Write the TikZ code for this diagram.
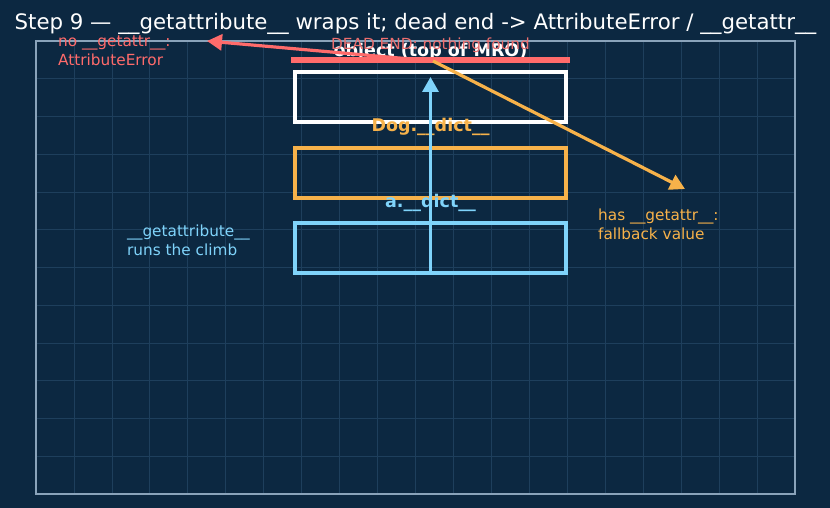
\documentclass[tikz,border=0pt]{standalone}
\usepackage{fontspec}
\setmainfont{DejaVu Sans}
\usetikzlibrary{arrows.meta}
\definecolor{bg}{HTML}{0C2841}
\definecolor{gridc}{HTML}{1E3F5C}
\definecolor{framec}{HTML}{8AA3BA}
\definecolor{redc}{HTML}{FF6B6B}
\definecolor{orc}{HTML}{F7B24A}
\definecolor{bluec}{HTML}{7FD3FA}
\tikzset{
  layer/.style={draw=#1, line width=3.2pt, minimum width=271pt, minimum height=50pt, inner sep=0pt},
  small/.style={font=\fontsize{15.3}{18.3}\selectfont, align=left, anchor=north west, inner sep=0pt},
  boldlab/.style={font=\fontsize{17.5}{20}\selectfont\bfseries, inner sep=0pt},
  conn/.style={line width=3.2pt, -{Triangle[length=15pt,width=16pt]}}
}
\begin{document}
\begin{tikzpicture}[x=1pt,y=-1pt]
\fill[bg] (0,0) rectangle (830,508);
\useasboundingbox (0,0) rectangle (830,508);
% grid
\foreach \k in {1,...,19} \draw[gridc, line width=0.8pt] ({36+\k*37.95},41) -- ({36+\k*37.95},494);
\foreach \k in {1,...,11} \draw[gridc, line width=0.8pt] (36,{41+\k*37.75}) -- (795,{41+\k*37.75});
\draw[framec, line width=1.8pt] (36,41) rectangle (795,494);
% title
\node[font=\fontsize{21.3}{24}\selectfont, text=white, inner sep=0pt] (title) at (415.5,23.5) {Step 9 — \_\_getattribute\_\_ wraps it; dead end -> AttributeError / \_\_getattr\_\_};
% layers
\node[layer=white] (obj) at (430.5,97) {};
\node[layer=orc] (dog) at (430.5,173) {};
\node[layer=bluec] (inst) at (430.5,248) {};
\node[boldlab, text=white] (objl) at (430.5,52) {object (top of MRO)};
\node[boldlab, text=orc] (dogl) at (430.5,127) {Dog.\_\_dict\_\_};
\node[boldlab, text=bluec] (instl) at (430.5,203) {a.\_\_dict\_\_};
% dead-end bar
\draw[redc, line width=6.5pt] (291,60) -- (570,60);
\node[font=\fontsize{15.3}{18}\selectfont, text=redc!85!gray, inner sep=0pt] (dead) at (430.5,45) {DEAD END: nothing found};
% climb arrow
\coordinate (cs) at (430.5,272);
\coordinate (ce) at (430.5,77);
\draw[bluec, conn] (cs) -- (ce);
% branches
\coordinate (branch) at (433,61);
\coordinate (errtip) at (207,41);
\coordinate (fbtip) at (685,189);
\draw[redc, conn] (branch) -- (errtip);
\draw[orc, conn] (branch) -- (fbtip);
% labels
\node[small, text=redc] (err) at (58,36) {no \_\_getattr\_\_:\\AttributeError};
\node[small, text=orc] (fb) at (598,209) {has \_\_getattr\_\_:\\fallback value};
\node[small, text=bluec] (clb) at (127,225) {\_\_getattribute\_\_\\runs the climb};
\end{tikzpicture}
\end{document}
